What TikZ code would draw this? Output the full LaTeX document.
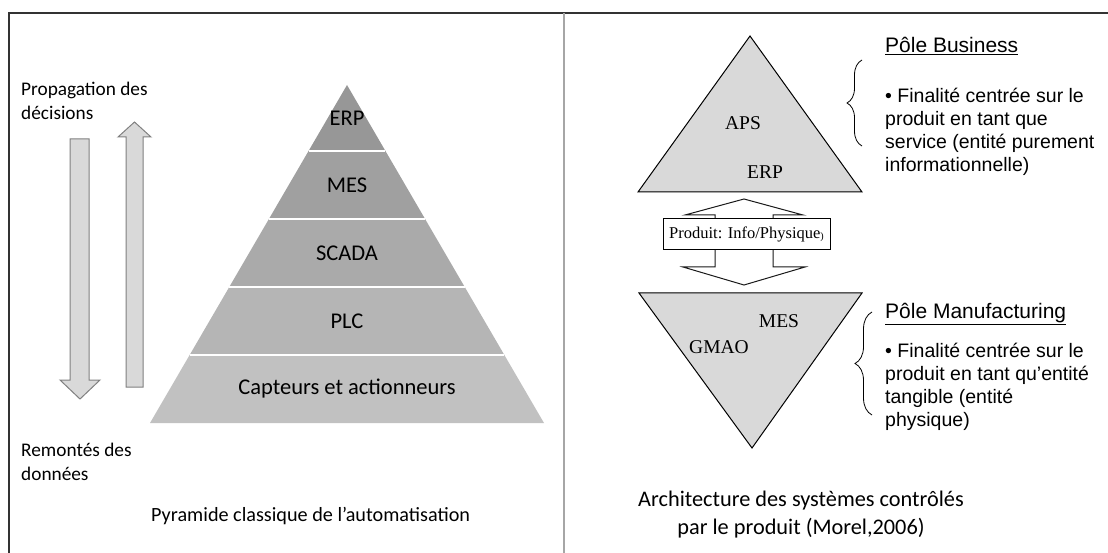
\documentclass[tikz,border=0pt]{standalone}
\usepackage{fontspec}
\usetikzlibrary{calc,decorations.pathreplacing}
\newfontfamily\calfont{Carlito}
\newfontfamily\arifont{Liberation Sans}
\newfontfamily\tmsfont{Liberation Serif}
\definecolor{lay1}{HTML}{979797}
\definecolor{lay2}{HTML}{A0A0A0}
\definecolor{lay3}{HTML}{AAAAAA}
\definecolor{lay4}{HTML}{B5B5B5}
\definecolor{lay5}{HTML}{C1C1C1}
\definecolor{trigray}{HTML}{D9D9D9}
\tikzset{
  pyrlbl/.style={font=\calfont\fontsize{22.5}{26}\selectfont, inner sep=0pt},
  sidetxt/.style={font=\calfont\fontsize{19.3}{24}\selectfont, align=left, inner sep=0pt},
  captxt/.style={font=\calfont\fontsize{#1}{28}\selectfont, inner sep=0pt},
  poletxt/.style={font=\arifont\fontsize{19.5}{23}\selectfont, align=left, inner sep=0pt},
  polehead/.style={font=\arifont\fontsize{21}{23}\selectfont, inner sep=0pt},
  serlbl/.style={font=\tmsfont\fontsize{19.5}{22}\selectfont, inner sep=0pt},
  bigarrow/.style={fill=trigray, draw=black!50, line width=1pt},
  tri/.style={fill=trigray, draw=black, line width=1pt},
  prodbox/.style={draw=black, fill=white, line width=1pt, minimum width=167pt,
    minimum height=31pt, inner sep=0pt, font=\tmsfont\fontsize{16.5}{20}\selectfont},
  curly/.style={decorate, decoration={brace, amplitude=#1}, line width=0.8pt}
}
\begin{document}
\begin{tikzpicture}[x=1pt,y=-1pt]
\useasboundingbox (0,0) rectangle (1108,553);
% frame
\draw[line width=2pt, black!80] (9,553) -- (9,13) -- (1108,13);
\draw[line width=1.5pt, black!35] (564,13) -- (564,553);

% left part
\draw[bigarrow] (70,139) -- (89,139) -- (89,380) -- (100,380) -- (80,399) -- (60,380) -- (70,380) -- cycle;
\draw[bigarrow] (126,387) -- (126,137) -- (118,137) -- (134.5,122) -- (151,137) -- (143,137) -- (143,387) -- cycle;
\node[sidetxt, anchor=north west] (prop) at (21,82) {Propagation des\\décisions};
\node[sidetxt, anchor=north west] (remo) at (21,443) {Remontés des\\données};

\coordinate (apex) at (347,85);
\coordinate (bl) at (150,423);
\coordinate (br) at (544,423);
\foreach \ta/\tb/\col/\txt/\nm in {0/.1953/lay1/ERP/erp, .1953/.3964/lay2/MES/mes,
    .3964/.5976/lay3/SCADA/scada, .5976/.7988/lay4/PLC/plc,
    .7988/1/lay5/Capteurs et actionneurs/capt} {
  \pgfmathsetmacro\tm{(\ta+\tb)/2}
  \fill[\col] ($(apex)!\ta!(bl)$) -- ($(apex)!\tb!(bl)$) -- ($(apex)!\tb!(br)$) -- ($(apex)!\ta!(br)$) -- cycle;
  \node[pyrlbl] (\nm) at ($(apex)!\tm!(apex|-bl)$) {\txt};
}
\foreach \tb in {.1953,.3964,.5976,.7988}
  \draw[white, line width=2pt] ($(apex)!\tb!(bl)$) -- ($(apex)!\tb!(br)$);
\node[captxt=20.2, anchor=base west] (capl) at (151,521) {Pyramide classique de l’automatisation};

% right part
\filldraw[tri] (750,36) -- (638,192) -- (862,192) -- cycle;
\filldraw[tri] (639,293) -- (862,293) -- (752,448) -- cycle;
\node[serlbl] (aps) at (743,123) {APS};
\node[serlbl] (erpr) at (765,172) {ERP};
\node[serlbl] (mesr) at (779,321) {MES};
\node[serlbl] (gmao) at (719,347) {GMAO};

\filldraw[fill=white, draw=black!90, line width=1pt] (744,199) -- (803,215) -- (773,215) -- (773,267)
  -- (805,267) -- (744,285) -- (683,267) -- (715,267) -- (715,215) -- (685,215) -- cycle;
\node[prodbox] (prod) at (746.5,234.5) {Produit: Info/Physique\raisebox{-1pt}{\fontsize{10}{10}\selectfont)}};

\draw[curly=15pt] (862,146) -- (862,60);
\draw[curly=17pt] (872,415) -- (872,312);
\node[polehead, anchor=base west] (busi) at (885,53) {\underline{Pôle Business}};
\node[poletxt, anchor=north west] (busitxt) at (885,88) {• Finalité centrée sur le\\produit en tant que\\service (entité purement\\informationnelle)};
\node[polehead, anchor=base west] (manu) at (885,318) {\underline{Pôle Manufacturing}};
\node[poletxt, anchor=north west] (manutxt) at (885,343) {• Finalité centrée sur le\\produit en tant qu’entité\\tangible (entité\\physique)};
\node[captxt=22.3, align=center, anchor=north] (capr) at (801,491) {Architecture des systèmes contrôlés\\par le produit (Morel,2006)};
\end{tikzpicture}
\end{document}
